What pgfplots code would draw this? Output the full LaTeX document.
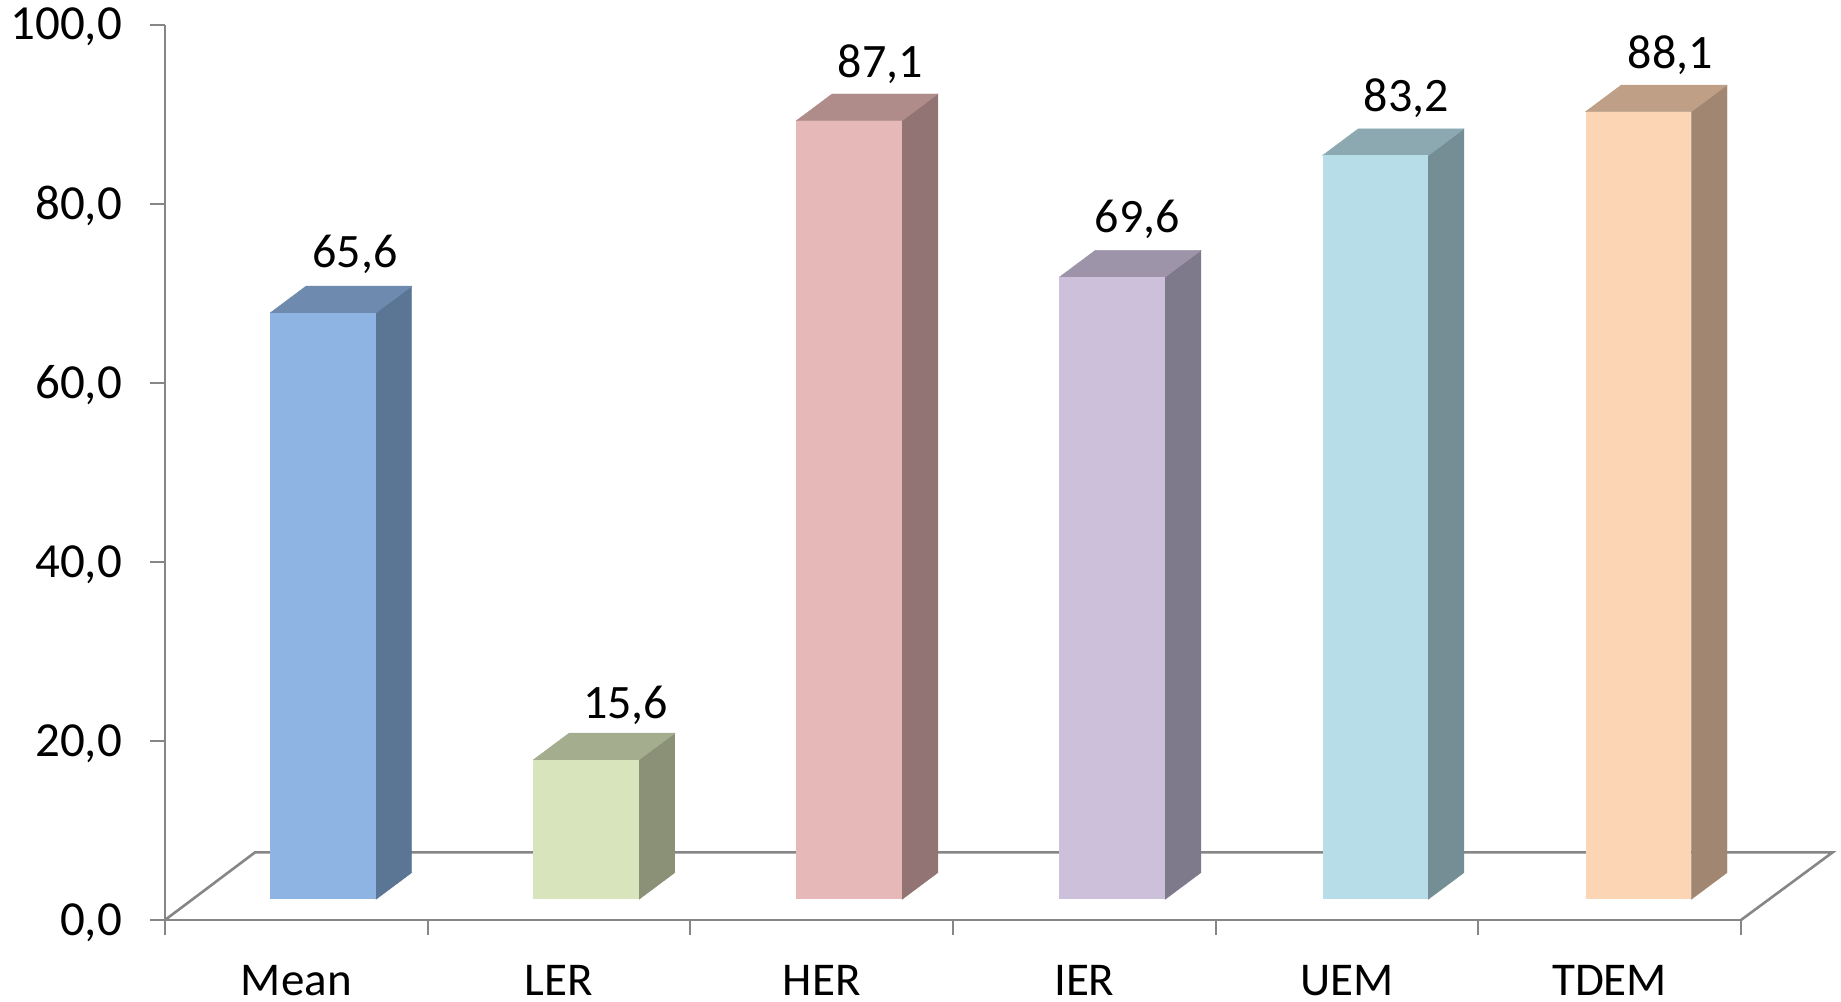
\documentclass[border=0pt]{standalone}
\usepackage{fontspec}
\setmainfont{Carlito}
\usepackage{pgfplots}
\pgfplotsset{compat=1.18}

% face colours of the 3D columns: F front, S side, T top
\definecolor{axisgray}{HTML}{868686}
\definecolor{meanF}{HTML}{8DB4E2}\definecolor{meanS}{HTML}{5B7595}\definecolor{meanT}{HTML}{6E8AAF}
\definecolor{lerF}{HTML}{D8E4BC}\definecolor{lerS}{HTML}{8A9176}\definecolor{lerT}{HTML}{A4AD8E}
\definecolor{herF}{HTML}{E6B8B7}\definecolor{herS}{HTML}{937474}\definecolor{herT}{HTML}{AF8C8A}
\definecolor{ierF}{HTML}{CCC0DA}\definecolor{ierS}{HTML}{7F7A8B}\definecolor{ierT}{HTML}{9D94AA}
\definecolor{uemF}{HTML}{B7DEE8}\definecolor{uemS}{HTML}{758D94}\definecolor{uemT}{HTML}{8CA9B1}
\definecolor{tdemF}{HTML}{FCD5B4}\definecolor{tdemS}{HTML}{A18772}\definecolor{tdemT}{HTML}{BFA087}

\newcommand{\valfont}{\fontsize{24}{28}\selectfont}
\newcommand{\catfont}{\fontsize{23.5}{28}\selectfont}
\newcommand{\tickfont}{\fontsize{24.5}{28}\selectfont}

% half width of a column and the depth offset of its side and top faces, in data units
\newcommand{\halfw}{0.2012}
\newcommand{\depthx}{0.136}
\newcommand{\depthy}{2.98}

% one column: centre, value, colour prefix, label offsets in x and y (pt)
\newcommand{\threedbar}[5]{%
  \pgfmathsetmacro\xl{#1-\halfw}%
  \pgfmathsetmacro\xr{#1+\halfw}%
  \pgfmathsetmacro\xlb{\xl+\depthx}%
  \pgfmathsetmacro\xrb{\xr+\depthx}%
  \pgfmathsetmacro\yb{#2+\depthy}%
  \edef\sideface{\noexpand\addplot[fill=#3S,draw=#3S,line width=0.2pt]
    coordinates {(\xr,0) (\xrb,\depthy) (\xrb,\yb) (\xr,#2)} -- cycle;}%
  \edef\topface{\noexpand\addplot[fill=#3T,draw=#3T,line width=0.2pt]
    coordinates {(\xl,#2) (\xr,#2) (\xrb,\yb) (\xlb,\yb)} -- cycle;}%
  \sideface\topface
  \addplot[ybar,bar shift=0pt,bar width=52.85pt,fill=#3F,draw=none,
    nodes near coords,
    every node near coord/.append style={
      anchor=center,xshift=#4,yshift=#5,text=black,font=\valfont}]
    coordinates {(#1,#2)};
}

\begin{document}
\begin{tikzpicture}
\useasboundingbox (-82.5pt,-40.5pt) rectangle (838pt,460pt);

% frame: value axis, category axis and floor outline
\begin{axis}[
  at={(0pt,0pt)},anchor=south west,
  scale only axis,width=788pt,height=447.65pt,
  xmin=0,xmax=6,ymin=0,ymax=100,
  clip=false,
  axis lines=left,
  axis line style={-,draw=axisgray,line width=1.3pt},
  tick style={draw=axisgray,line width=0.9pt},
  tick align=outside,
  major tick length=7.5pt,
  ytick={0,20,40,60,80,100},
  xtick={0,1,2,3,4,5,6},
  xticklabels={},
  extra x ticks={0.5,1.5,2.5,3.5,4.5,5.5},
  extra x tick labels={Mean,LER,HER,IER,UEM,TDEM},
  extra x tick style={major tick length=0pt,
    xticklabel style={inner sep=0pt,yshift=-22.6pt,font=\catfont}},
  tick label style={text=black},
  yticklabel style={xshift=-10.5pt,yshift=-1.2pt,font=\tickfont},
  scaled y ticks=false,
  /pgf/number format/.cd,fixed,fixed zerofill,precision=1,use comma,
    1000 sep={},assume math mode=true,
]
\addplot[draw=axisgray,line width=1.3pt] coordinates {(0,0) (0.343,7.56) (6.349,7.56) (6,0)};
\end{axis}

% columns: zero of this axis lies on the front edge of the floor strip
\begin{axis}[
  at={(0pt,0pt)},anchor=south west,
  scale only axis,width=788pt,height=447pt,
  xmin=0,xmax=6,ymin=-2.315,ymax=97.685,
  clip=false,hide axis,
  /pgf/number format/.cd,fixed,fixed zerofill,precision=1,use comma,
    1000 sep={},assume math mode=true,
]
\threedbar{0.602}{65.6}{mean}{16pt}{29pt}
\threedbar{1.6035}{15.6}{ler}{19.7pt}{27.4pt}
\threedbar{2.605}{87.1}{her}{15.5pt}{28pt}
\threedbar{3.6065}{69.6}{ier}{12.5pt}{29pt}
\threedbar{4.608}{83.2}{uem}{15.5pt}{28.5pt}
\threedbar{5.6095}{88.1}{tdem}{16pt}{28pt}
\end{axis}
\end{tikzpicture}
\end{document}
